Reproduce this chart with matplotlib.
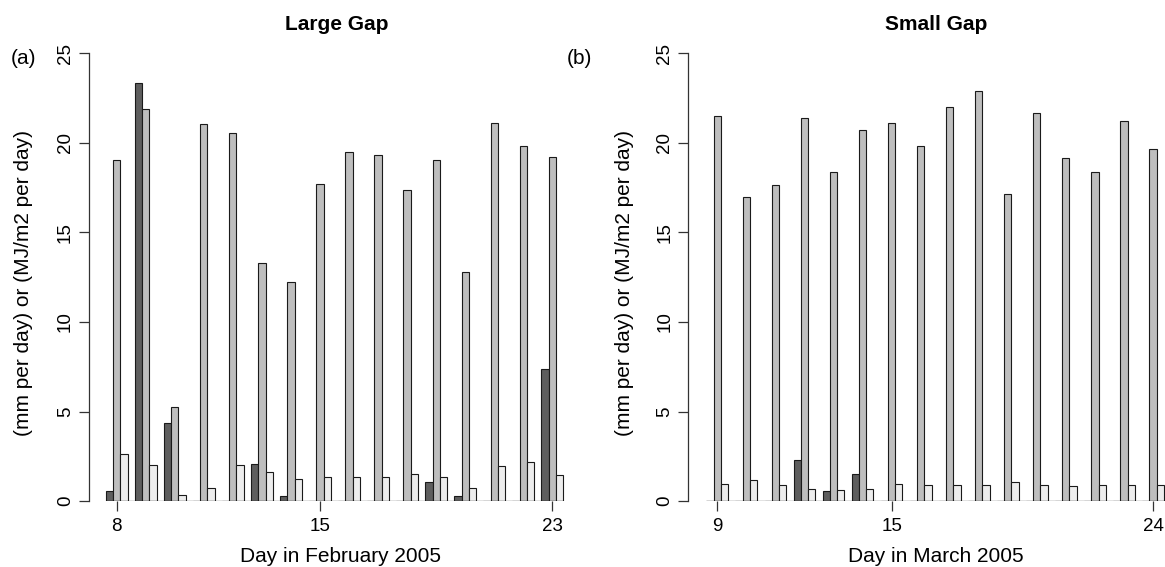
import matplotlib
matplotlib.use("Agg")
import matplotlib.pyplot as plt
import numpy as np

plt.rcParams['font.family'] = ['Liberation Sans', 'DejaVu Sans']

# ---- data ----
feb_days = list(range(8, 24))
feb_rain = [0.54, 23.33, 4.34, 0, 0, 2.09, 0.30, 0, 0, 0, 0, 1.06, 0.30, 0, 0, 7.37]
feb_rad = [19.05, 21.92, 5.27, 21.06, 20.58, 13.31, 12.22, 17.69, 19.48, 19.31,
           17.37, 19.05, 12.77, 21.10, 19.83, 19.20]
feb_et = [2.64, 2.01, 0.33, 0.71, 2.01, 1.60, 1.21, 1.36, 1.32, 1.36, 1.53, 1.36,
          0.71, 1.96, 2.20, 1.43]
feb_ticks = [8, 15, 23]

mar_days = list(range(9, 25))
mar_rain = [0, 0, 0, 2.29, 0.54, 1.53, 0, 0, 0, 0, 0, 0, 0, 0, 0, 0]
mar_rad = [21.49, 17.01, 17.65, 21.38, 18.36, 20.75, 21.14, 19.81, 22.00, 22.91,
           17.13, 21.70, 19.18, 18.36, 21.21, 19.68]
mar_et = [0.97, 1.16, 0.91, 0.67, 0.63, 0.67, 0.97, 0.88, 0.88, 0.88, 1.04, 0.91,
          0.82, 0.88, 0.91, 0.88]
mar_ticks = [9, 15, 24]

ylabel = "(mm per day) or (MJ/m2 per day)"
colors = ["#5e5e5e", "#bebebe", "#ededed"]

W, H = 1165, 567
fig = plt.figure(figsize=(W / 100, H / 100), dpi=100)


def px_axes(x0, x1, ytop, ybot):
    return fig.add_axes([x0 / W, (H - ybot) / H, (x1 - x0) / W, (ybot - ytop) / H])


def panel(ax, days, series, ticks, xlim):
    n = len(days)
    base = np.arange(n) * 4
    for k, (vals, c) in enumerate(zip(series, colors)):
        ax.bar(base + 1.5 + k, vals, width=1.0, color=c, edgecolor="#1a1a1a",
               linewidth=0.8, zorder=2)
    ax.hlines(0, 1, base[-1] + 4, color="#1a1a1a", linewidth=0.9, zorder=3)
    ax.set_xlim(*xlim)
    ax.set_ylim(0, 25)
    for s in ["top", "right", "bottom"]:
        ax.spines[s].set_visible(False)
    ax.spines["left"].set_bounds(0, 25)
    ax.spines["left"].set_linewidth(0.9)
    ax.spines["left"].set_color("#333333")
    ax.set_yticks([0, 5, 10, 15, 20, 25])
    ax.set_yticklabels(["0", "5", "10", "15", "20", "25"], rotation=90, va="center")
    tpos = [base[days.index(d)] + 2.5 for d in ticks]
    ax.set_xticks(tpos)
    ax.set_xticklabels([str(d) for d in ticks])
    ax.tick_params(axis="y", length=7, width=0.9, pad=3.5, labelsize=13.5,
                   color="#333333")
    ax.tick_params(axis="x", length=7, width=0.9, pad=5.5, labelsize=13.5,
                   color="#333333")
    ax.set_facecolor("none")


axL = px_axes(88.5, 581.5, 53.5, 501)
panel(axL, feb_days, [feb_rain, feb_rad, feb_et], feb_ticks, (-1.384, 66.52))
axR = px_axes(688, 1165.3, 53.5, 501)
panel(axR, mar_days, [mar_rain, mar_rad, mar_et], mar_ticks, (-1.54, 64.2))


def ftext(x, y, s, **kw):
    fig.text(x / W, (H - y) / H, s, ha="center", va="center", **kw)


ftext(337, 24, "Large Gap", fontsize=15, fontweight="bold")
ftext(936, 24, "Small Gap", fontsize=15, fontweight="bold")
ftext(341, 556, "Day in February 2005", fontsize=15)
ftext(936, 556, "Day in March 2005", fontsize=15)
ftext(24, 283, ylabel, fontsize=15, rotation=90)
ftext(624, 283, ylabel, fontsize=15, rotation=90)
ftext(23, 58, "(a)", fontsize=15)
ftext(579, 59, "(b)", fontsize=15)

fig.savefig("out.png", dpi=100)
